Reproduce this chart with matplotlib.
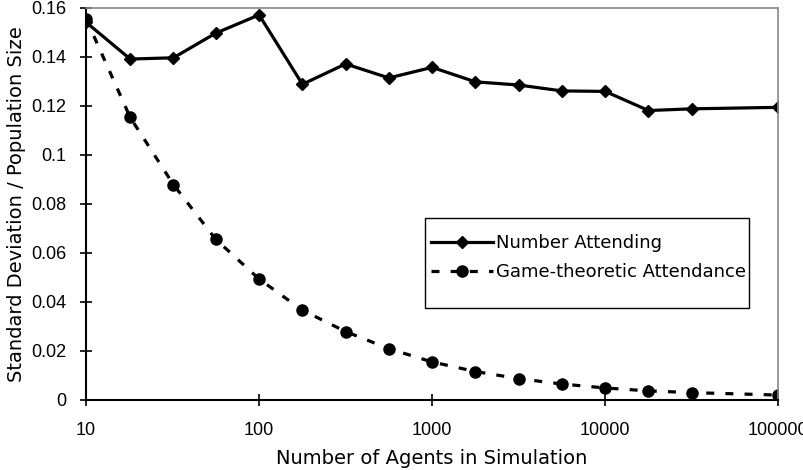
import matplotlib.pyplot as plt
from matplotlib.patches import Rectangle
from matplotlib.ticker import FixedLocator, NullLocator

plt.rcParams['font.family'] = ['Liberation Sans', 'DejaVu Sans']

# number of agents (quarter-decade steps, last point at 1e5)
agents = [10, 18, 32, 56, 100, 178, 316, 562, 1000, 1778, 3162, 5623,
          10000, 17783, 31623, 100000]
# observed std dev / population size
attending = [0.154, 0.139, 0.1395, 0.1495, 0.157, 0.1287, 0.137, 0.1313,
             0.1356, 0.1297, 0.1284, 0.126, 0.1258, 0.118, 0.1187, 0.1193]
# game-theoretic prediction
theoretic = [0.1555, 0.1152, 0.0878, 0.0656, 0.0493, 0.0366, 0.0279, 0.0209,
             0.0155, 0.0116, 0.0087, 0.0065, 0.0049, 0.0037, 0.0030, 0.0020]

xticks = [10, 100, 1000, 10000, 100000]
xlabels = ['10', '100', '1000', '10000', '100000']
yticks = [0, 0.02, 0.04, 0.06, 0.08, 0.1, 0.12, 0.14, 0.16]
ylabels = ['0', '0.02', '0.04', '0.06', '0.08', '0.1', '0.12', '0.14', '0.16']

wide = ['DejaVu Sans']  # wider face for the labels, closer to the old bitmap text

fig = plt.figure(figsize=(8.04, 4.70), dpi=100)
ax = fig.add_axes([0.107, 0.149, 0.861, 0.835])

ax.plot(agents, attending, color='black', lw=2.3, marker='D', ms=6.5,
        label='Number Attending')
ax.plot(agents, theoretic, color='black', lw=2.3, ls=(0, (2.5, 3.5)),
        marker='o', ms=8, label='Game-theoretic Attendance')

ax.set_xscale('log')
ax.set_xlim(10, 100000)
ax.set_ylim(0, 0.16)
ax.xaxis.set_major_locator(FixedLocator(xticks))
ax.xaxis.set_minor_locator(NullLocator())
ax.set_xticklabels(xlabels)
ax.set_yticks(yticks)
ax.set_yticklabels(ylabels)

ax.tick_params(axis='both', direction='inout', length=8, width=1.2,
               labelsize=13, colors='black')
ax.tick_params(axis='y', pad=10)
ax.tick_params(axis='x', pad=12)

for side in ['left', 'bottom']:
    ax.spines[side].set_linewidth(1.5)
    ax.spines[side].set_color('black')
for side in ['top', 'right']:
    ax.spines[side].set_linewidth(1.2)
    ax.spines[side].set_color('#888888')

ax.set_xlabel('Number of Agents in Simulation', fontsize=14, family=wide,
              labelpad=7)
ax.set_ylabel('Standard Deviation / Population Size', fontsize=14,
              family=wide, labelpad=4)

# legend entries without frame, box drawn separately (taller than the rows)
leg = ax.legend(loc='upper left', bbox_to_anchor=(0.499, 0.422),
                prop={'family': wide, 'size': 13}, frameon=False,
                handlelength=3.4, handletextpad=0.15, labelspacing=0.6,
                borderpad=0, borderaxespad=0)
ax.add_patch(Rectangle((0.490, 0.234), 0.467, 0.230, transform=ax.transAxes,
                       fill=False, edgecolor='black', lw=1.0, zorder=5))

fig.savefig('out.png', dpi=100)
